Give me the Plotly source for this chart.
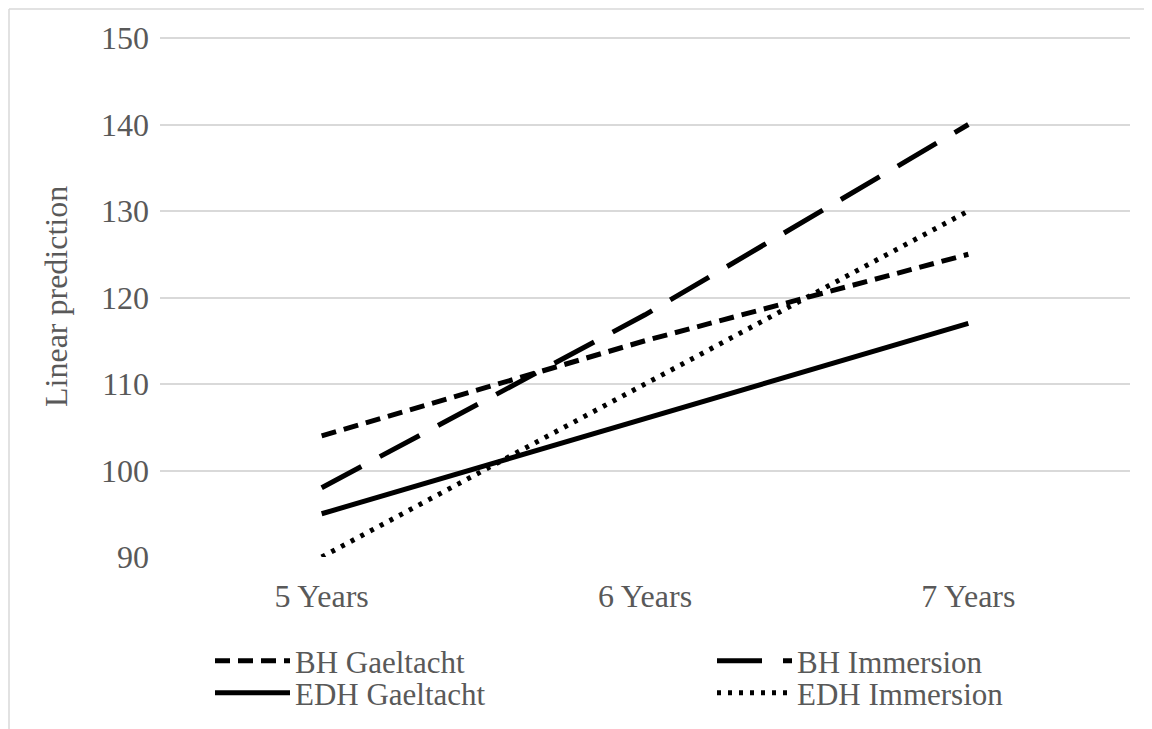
import plotly.graph_objects as go

categories = ["5 Years", "6 Years", "7 Years"]
bh_gaeltacht = [104, 115, 125]
bh_immersion = [98, 118, 140]
edh_gaeltacht = [95, 106, 117]
edh_immersion = [90, 110, 130]
y_ticks = [90, 100, 110, 120, 130, 140, 150]

FONT = "Liberation Serif, Times New Roman, serif"
GRAY = "#595959"
FS = 32

OFF = 8  # page body margin offset (screen px = figure px + OFF)
W, H = 1152 - OFF, 729 - OFF

Y_MIN, Y_MAX = 90, 150.35
# plot area in screen pixels (150 gridline lands at ~38, 90 at 557)
PX0, PX1, PY0, PY1 = 160, 1130, 35, 557
L = PX0 - OFF
T = PY0 - OFF
R = W - (PX1 - OFF)
B = H - (PY1 - OFF)

def px_x(sx):
    return (sx - PX0) / (PX1 - PX0)

def px_y(sy):
    return (PY1 - sy) / (PY1 - PY0)

# name, values, dash, legend id, legend left px, legend top px (screen)
series = [
    ("BH Gaeltacht", bh_gaeltacht, "15px,8px", "legend", 210, 634),
    ("BH Immersion", bh_immersion, "45px,21px", "legend2", 712, 634),
    ("EDH Gaeltacht", edh_gaeltacht, "solid", "legend3", 210, 666),
    ("EDH Immersion", edh_immersion, "4px,7px", "legend4", 712, 666),
]

fig = go.Figure()
legend_layouts = {}
for name, vals, dash, leg, lx, ly in series:
    fig.add_trace(go.Scatter(
        x=categories, y=vals, name=name, mode="lines",
        line=dict(color="black", width=5, dash=dash),
        legend=leg,
    ))
    legend_layouts[leg] = dict(
        x=px_x(lx), xanchor="left",
        y=px_y(ly), yanchor="top",
        itemwidth=75,
        font=dict(family=FONT, size=31, color=GRAY),
        bgcolor="rgba(0,0,0,0)",
    )

fig.update_layout(
    width=W, height=H,
    margin=dict(l=L, r=R, t=T, b=B, pad=0, autoexpand=False),
    paper_bgcolor="white", plot_bgcolor="white",
    font=dict(family=FONT, size=FS, color=GRAY),
    showlegend=True,
    xaxis=dict(
        type="category", range=[-0.5, 2.5],
        showgrid=False, zeroline=False, showline=False,
        ticks="", tickfont=dict(family=FONT, size=FS, color=GRAY),
        ticklabelstandoff=17,
    ),
    yaxis=dict(
        range=[Y_MIN, Y_MAX], tickvals=y_ticks,
        showgrid=True, gridcolor="#d9d9d9", gridwidth=1.5,
        zeroline=False, showline=False, ticks="",
        tickfont=dict(family=FONT, size=FS, color=GRAY),
        ticklabelstandoff=10,
    ),
    annotations=[dict(
        text="Linear prediction", textangle=-90,
        xref="paper", yref="paper",
        x=px_x(56), y=px_y(297),
        xanchor="center", yanchor="middle", showarrow=False,
        font=dict(family=FONT, size=FS, color=GRAY),
    )],
    shapes=[
        dict(type="line", xref="paper", yref="paper",
             x0=px_x(9), x1=px_x(9), y0=px_y(9), y1=px_y(780),
             line=dict(color="#d9d9d9", width=1.5)),
        dict(type="line", xref="paper", yref="paper",
             x0=px_x(9), x1=px_x(1220), y0=px_y(9), y1=px_y(9),
             line=dict(color="#d9d9d9", width=1.5)),
    ],
    **legend_layouts,
)

fig.write_html("out.html")
